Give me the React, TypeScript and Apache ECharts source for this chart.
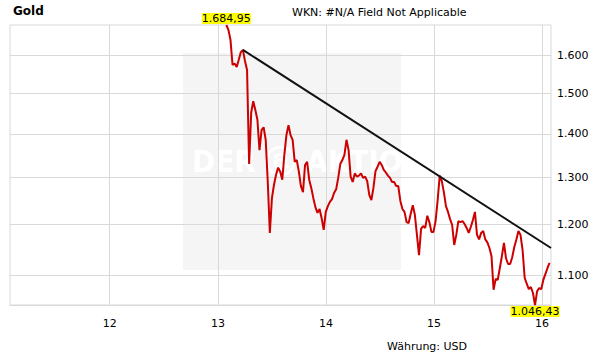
import React, { useEffect, useRef } from "react";
import * as echarts from "echarts";

// ---- data ----
const startDate = [2013, 0, 29]; // first weekly observation
const weeklyClose = [
  1684.95, 1671, 1643, 1574, 1578, 1569, 1588, 1609, 1615, 1585,
  1561, 1330, 1452, 1480, 1458, 1434, 1362, 1409, 1416, 1386,
  1290, 1183, 1255, 1284, 1306, 1322, 1313, 1295, 1351, 1397,
  1421, 1397, 1386, 1335, 1339, 1313, 1281, 1268, 1328, 1335,
  1295, 1277, 1255, 1236, 1224, 1232, 1213, 1189, 1226, 1238,
  1247, 1253, 1266, 1274, 1299, 1330, 1339, 1351, 1386, 1362,
  1302, 1290, 1309, 1302, 1304, 1309, 1299, 1302, 1292, 1262,
  1251, 1277, 1314, 1324, 1335, 1328, 1317, 1311, 1304, 1299,
  1290, 1290, 1281, 1281, 1249, 1232, 1226, 1205, 1203, 1222,
  1240, 1220, 1179, 1139, 1191, 1197, 1193, 1218, 1205, 1185,
  1185, 1207, 1251, 1304, 1292, 1268, 1238, 1226, 1211, 1199,
  1159, 1179, 1207, 1205, 1207, 1201, 1193, 1183, 1195, 1209,
  1226, 1179, 1170, 1183, 1187, 1170, 1164, 1153, 1137, 1074,
  1094, 1092, 1114, 1137, 1163, 1133, 1122, 1122, 1135, 1155,
  1170, 1187, 1179, 1149, 1096, 1085, 1075, 1079, 1068, 1046.43,
  1071, 1077, 1075, 1092, 1103, 1114, 1124,
];
const yTickValues = [1100, 1200, 1300, 1400, 1500, 1600];
const xTickYears = [2012, 2013, 2014, 2015, 2016];
const xRange = [[2011, 0, 29], [2016, 0, 31]];
const trendDates = [[2013, 2, 26], [2016, 0, 31]];
const trendValues = [1615, 1153];

const FONT = '"DejaVu Sans", Verdana, sans-serif';

function fmtThousands(n: number): string {
  const s = String(Math.round(n));
  return s.replace(/\B(?=(\d{3})+(?!\d))/g, ".");
}
function fmtPrice(n: number): string {
  const [i, d] = n.toFixed(2).split(".");
  return fmtThousands(Number(i)) + "," + d;
}
const toTime = (a: number[]) => new Date(a[0], a[1], a[2]).getTime();

export default function App() {
  const ref = useRef<HTMLDivElement>(null);
  useEffect(() => {
    if (!ref.current) return;
    const chart = echarts.init(ref.current, undefined, { renderer: "svg" });
    const lineData = weeklyClose.map((v, k) => [
      new Date(startDate[0], startDate[1], startDate[2] + 7 * k).getTime(),
      Math.log(v),
    ]);
    const trendData = trendDates.map((d, i) => [toTime(d), Math.log(trendValues[i])]);
    const xTicks = xTickYears.map((y) => new Date(y, 0, 1).getTime());
    const yTicks = yTickValues.map((v) => Math.log(v));
    const gridColor = "#d9d9d9";

    chart.setOption({
      animation: false,
      grid: {
        left: 10,
        right: 60,
        top: 25,
        bottom: 59,
        show: true,
        borderColor: gridColor,
        borderWidth: 1,
        backgroundColor: "transparent",
      },
      graphic: [
        {
          type: "rect",
          z: -10,
          silent: true,
          shape: { x: 183, y: 53, width: 218, height: 217 },
          style: { fill: "#f5f5f5" },
        },
        {
          type: "text",
          z: -9,
          silent: true,
          left: 192,
          top: 145,
          style: {
            text: "DER ⓐ AKTIONÄR",
            fill: "#ffffff",
            font: 'bold 31px "DejaVu Sans Condensed", "DejaVu Sans", sans-serif',
          },
        },
        {
          type: "text",
          left: 13,
          top: 5,
          style: { text: "Gold", fill: "#000", font: "bold 12px " + FONT },
        },
        {
          type: "text",
          left: 292,
          top: 7,
          style: { text: "WKN: #N/A Field Not Applicable", fill: "#000", font: "11px " + FONT },
        },
        {
          type: "text",
          left: 387,
          top: 341,
          style: { text: "Währung: USD", fill: "#000", font: "11px " + FONT },
        },
      ],
      xAxis: {
        type: "value",
        min: toTime(xRange[0]),
        max: toTime(xRange[1]),
        axisLine: { show: true, lineStyle: { color: gridColor } },
        axisTick: { show: false, customValues: xTicks },
        axisLabel: {
          customValues: xTicks,
          margin: 13,
          color: "#000",
          fontFamily: FONT,
          fontSize: 11,
          lineHeight: 11,
          formatter: (v: number) => String(new Date(v).getFullYear() % 100),
        },
        splitLine: { show: true, lineStyle: { color: gridColor, width: 1 } },
      },
      yAxis: {
        type: "value",
        position: "right",
        min: Math.log(Math.min(...weeklyClose)),
        max: Math.log(Math.max(...weeklyClose)),
        axisLine: { show: false },
        axisTick: { show: false, customValues: yTicks },
        axisLabel: {
          customValues: yTicks,
          margin: 6,
          color: "#000",
          fontFamily: FONT,
          fontSize: 11,
          formatter: (v: number) => fmtThousands(Math.exp(v)),
        },
        splitLine: { show: true, lineStyle: { color: gridColor, width: 1 } },
      },
      series: [
        {
          type: "line",
          data: lineData,
          showSymbol: false,
          symbol: "none",
          z: 3,
          lineStyle: { color: "#cc0000", width: 2 },
          markPoint: {
            symbol: "circle",
            symbolSize: 0,
            silent: true,
            label: {
              show: true,
              color: "#000",
              backgroundColor: "#ffff00",
              fontFamily: FONT,
              fontSize: 11,
              lineHeight: 11,
              padding: 0,
              formatter: (p: any) => fmtPrice(Math.exp(p.value)),
            },
            data: [
              { type: "max", valueDim: "y", label: { position: "top", distance: 1 } },
              { type: "min", valueDim: "y", label: { position: "bottom", distance: 1 } },
            ],
          },
        },
        {
          type: "line",
          data: trendData,
          showSymbol: false,
          symbol: "none",
          z: 4,
          lineStyle: { color: "#111", width: 2 },
        },
      ],
    });
    return () => chart.dispose();
  }, []);
  return <div ref={ref} style={{ width: 611, height: 364, position: "absolute", left: 0, top: 0 }} />;
}
